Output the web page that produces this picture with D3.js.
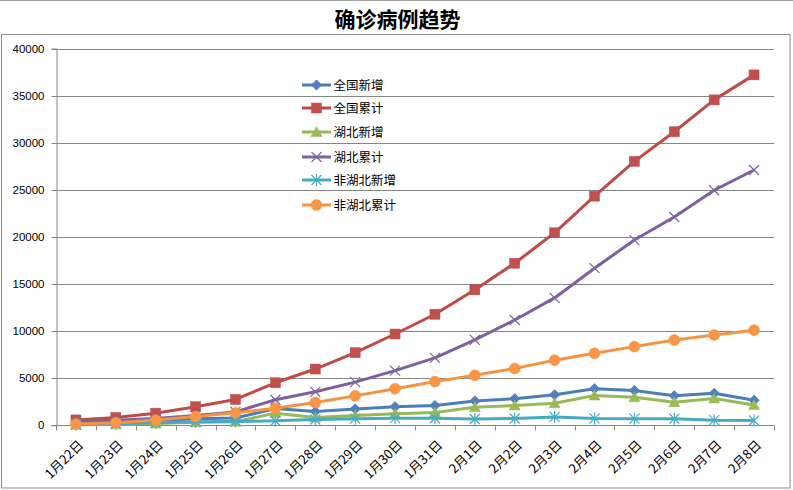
<!DOCTYPE html>
<html><head><meta charset="utf-8">
<script src="https://cdn.jsdelivr.net/npm/d3@7"></script>
<style>body{margin:0;background:#fff}svg{display:block}</style>
</head><body>
<svg id="c" width="793" height="490"></svg>
<script>
const categories = ["1月22日","1月23日","1月24日","1月25日","1月26日","1月27日","1月28日","1月29日","1月30日","1月31日","2月1日","2月2日","2月3日","2月4日","2月5日","2月6日","2月7日","2月8日"];
const seriesNames = ["全国新增","全国累计","湖北新增","湖北累计","非湖北新增","非湖北累计"];
const qgxz = [131,259,444,688,769,1771,1459,1737,1982,2102,2590,2829,3235,3887,3694,3143,3399,2656];
const qglj = [571,830,1287,1975,2744,4515,5974,7711,9692,11791,14380,17205,20438,24324,28018,31161,34546,37198];
const hbxz = [69,105,180,323,371,1291,840,1032,1220,1347,1921,2103,2345,3156,2987,2447,2841,2147];
const hblj = [444,549,729,1052,1423,2714,3554,4586,5806,7153,9074,11177,13522,16678,19665,22112,24953,27100];
const fhbxz = [62,154,264,365,398,480,619,705,761,752,669,722,888,730,707,696,544,505];
const fhblj = [127,281,558,923,1321,1801,2420,3125,3886,4638,5306,6028,6916,7646,8353,9049,9593,10098];
const yTicks = [0,5000,10000,15000,20000,25000,30000,35000,40000];
const title = "确诊病例趋势";

const seriesValues = [qgxz,qglj,hbxz,hblj,fhbxz,fhblj];
const colors = ["#4A7EBB","#BE4B48","#98B954","#7D60A0","#46AAC5","#F69240"];
const markerFill = ["#4F81BD","#C0504D","#9BBB59","#8064A2","#4BACC6","#F79646"];
const markers = ["diamond","square","triangle","x","star","circle"];

const svg = d3.select("#c");
const L = 56, R = 774, T = 48.5, B = 425.3;
const x = d3.scaleBand().domain(categories).range([L, R]);
const y = d3.scaleLinear().domain([0, 40000]).range([B, T]);
const cx = d => x(d) + x.bandwidth()/2;

// frame
svg.append("line").attr("x1",0).attr("x2",793).attr("y1",0.5).attr("y2",0.5).attr("stroke","#a0a0a0");
svg.append("rect").attr("x",1.5).attr("y",34.5).attr("width",788.5).attr("height",453.5)
  .attr("fill","none").attr("stroke","#8c8c8c");
svg.append("text").attr("x",397.5).attr("y",27).attr("text-anchor","middle")
  .attr("font-family","'Noto Sans CJK SC'").attr("font-weight","bold").attr("font-size",21)
  .attr("fill","#000").text(title);

// grid
const g = svg.append("g");
g.selectAll("line.grid").data(yTicks.filter(v=>v>0)).join("line")
  .attr("x1",L).attr("x2",R).attr("y1",d=>Math.round(y(d))+0.5).attr("y2",d=>Math.round(y(d))+0.5)
  .attr("stroke","#868686").attr("stroke-width",1);

// y axis
const ya = d3.axisLeft(y).tickValues(yTicks).tickSize(5).tickPadding(7).tickFormat(d3.format("d"));
const yg = svg.append("g").attr("transform",`translate(${L+0.5},0)`).call(ya);
yg.select(".domain").attr("stroke","#868686");
yg.selectAll(".tick line").attr("stroke","#868686");
yg.selectAll(".tick").attr("transform", d=>`translate(0,${Math.round(y(d))+0.5})`);
yg.selectAll("text").attr("font-family","'Liberation Sans', Arial").attr("font-size",11.5).attr("fill","#000");

// x axis
const xg = svg.append("g").attr("transform",`translate(0,${Math.round(B)+0.5})`);
xg.append("line").attr("x1",L).attr("x2",R).attr("stroke","#868686");
const bounds = categories.map(c=>x(c)).concat([R]);
xg.selectAll("line.t").data(bounds).join("line").attr("class","t")
  .attr("x1",d=>Math.round(d)+0.5).attr("x2",d=>Math.round(d)+0.5).attr("y1",0).attr("y2",5)
  .attr("stroke","#868686");
xg.selectAll("text").data(categories).join("text")
  .attr("transform",d=>`translate(${cx(d)+5},${17}) rotate(-45)`)
  .attr("text-anchor","end").attr("dy","0.35em")
  .attr("font-family","'Noto Sans CJK SC'").attr("font-size",13).attr("fill","#000")
  .text(d=>d);

// marker drawing
function drawMarker(sel, type, i){
  const c = colors[i], f = markerFill[i];
  if(type==="diamond") sel.append("path").attr("d","M0,-5L5,0L0,5L-5,0Z").attr("fill",f).attr("stroke",c);
  else if(type==="square") sel.append("rect").attr("x",-5).attr("y",-5).attr("width",10).attr("height",10).attr("fill",f).attr("stroke",c).attr("stroke-width",0.5);
  else if(type==="triangle") sel.append("path").attr("d","M0,-5.5L5.5,4.5L-5.5,4.5Z").attr("fill",f).attr("stroke",c).attr("stroke-width",0.5);
  else if(type==="x") sel.append("path").attr("d","M-5,-5L5,5M-5,5L5,-5").attr("stroke",f).attr("stroke-width",1.2).attr("fill","none");
  else if(type==="star") sel.append("path").attr("d","M-5,-5L5,5M-5,5L5,-5M0,-6L0,6").attr("stroke",f).attr("stroke-width",1.2).attr("fill","none");
  else if(type==="circle") sel.append("circle").attr("r",5.5).attr("fill",f).attr("stroke",c).attr("stroke-width",0.5);
}

const line = d3.line().x((d,j)=>cx(categories[j])).y(d=>y(d));
seriesValues.forEach((vals,i)=>{
  const sg = svg.append("g");
  sg.append("path").attr("d",line(vals)).attr("fill","none").attr("stroke",colors[i])
    .attr("stroke-width",3).attr("stroke-linejoin","round");
  vals.forEach((v,j)=>{
    const m = sg.append("g").attr("transform",`translate(${cx(categories[j])},${y(v)})`);
    drawMarker(m, markers[i], i);
  });
});

// legend
const legY = [85,108,132,157,180,205];
seriesNames.forEach((n,i)=>{
  const lg = svg.append("g").attr("transform",`translate(0,${legY[i]})`);
  lg.append("line").attr("x1",302).attr("x2",331).attr("stroke",colors[i]).attr("stroke-width",3);
  const m = lg.append("g").attr("transform","translate(316.5,0)");
  drawMarker(m, markers[i], i);
  lg.append("text").attr("x",333.5).attr("y",0).attr("dy","0.36em")
    .attr("font-family","'Noto Sans CJK SC'").attr("font-size",12.5).attr("fill","#000").text(n);
});
</script>
</body></html>
